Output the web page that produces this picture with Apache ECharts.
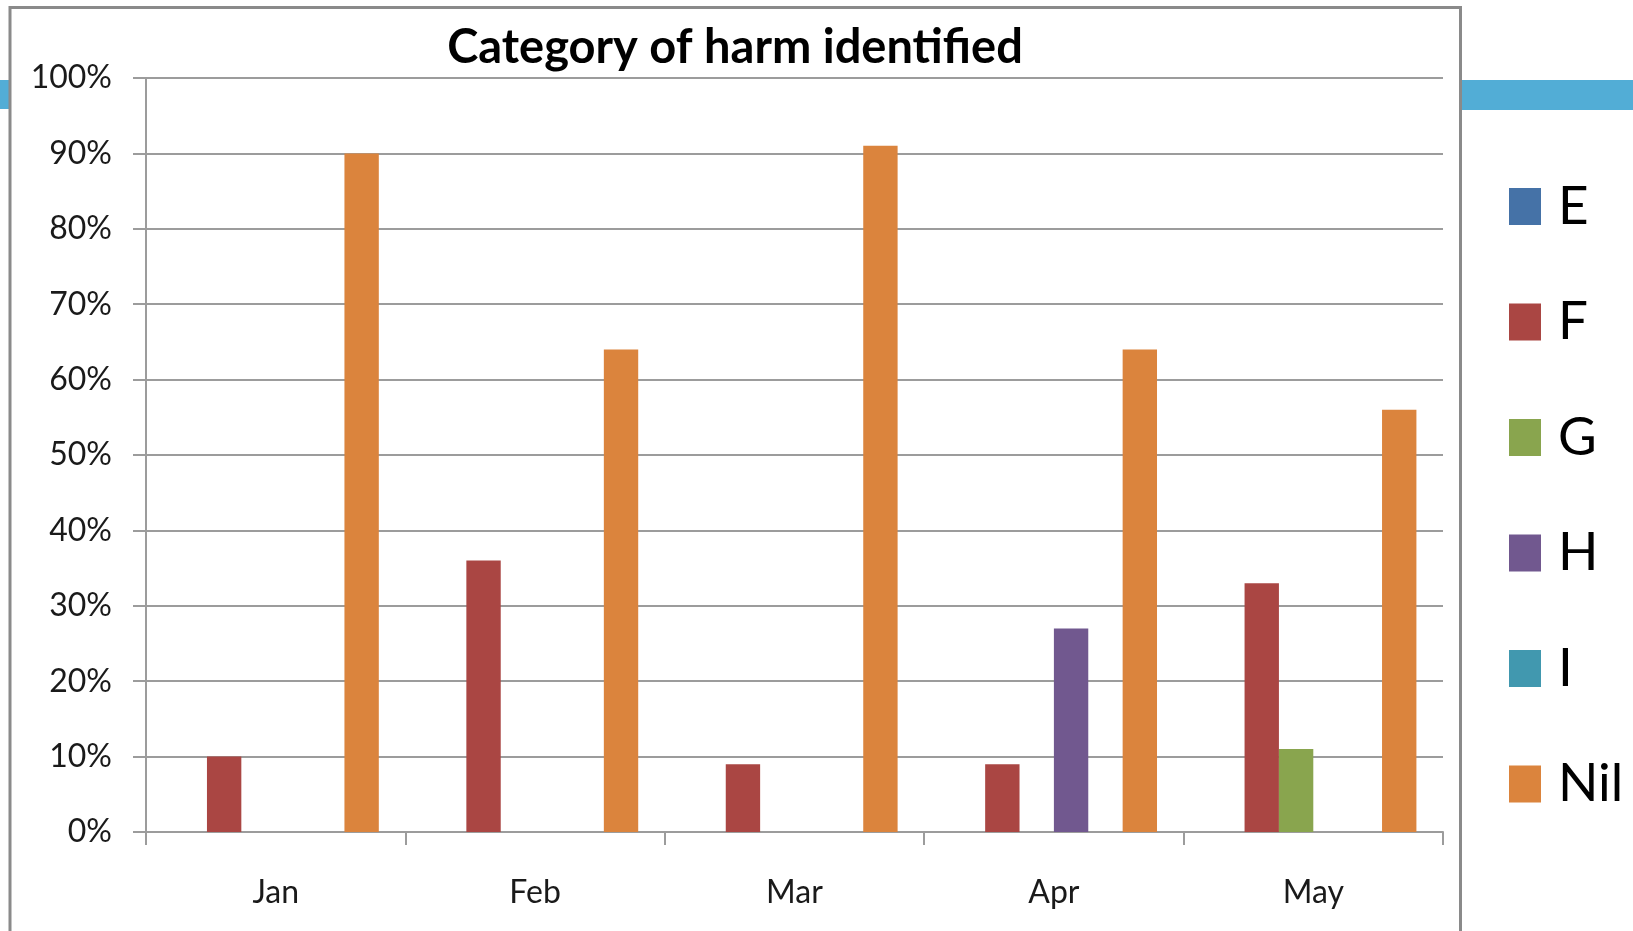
<!DOCTYPE html>
<html>
<head>
<meta charset="utf-8">
<script src="https://cdn.jsdelivr.net/npm/echarts@6/dist/echarts.min.js"></script>
<style>
html,body{margin:0;padding:0;background:#fff;}
#chart{width:1633px;height:931px;}
</style>
</head>
<body>
<div id="chart"></div>
<script>
const titleText = 'Category of harm identified';
const categories = ['Jan', 'Feb', 'Mar', 'Apr', 'May'];
const seriesNames = ['E', 'F', 'G', 'H', 'I', 'Nil'];
const valuesE = [0, 0, 0, 0, 0];
const valuesF = [10, 36, 9, 9, 33];
const valuesG = [0, 0, 0, 0, 11];
const valuesH = [0, 0, 0, 27, 0];
const valuesI = [0, 0, 0, 0, 0];
const valuesNil = [90, 64, 91, 64, 56];
const colors = ['#4572A7', '#AA4643', '#89A54E', '#71588F', '#4198AF', '#DB843D'];
const yMin = 0, yMax = 100, yStep = 10;

const allValues = [valuesE, valuesF, valuesG, valuesH, valuesI, valuesNil];

const chart = echarts.init(document.getElementById('chart'), null, {renderer: 'canvas'});
const font = 'Lato';
const gridColor = '#9c9c9c';

const option = {
  backgroundColor: '#ffffff',
  animation: false,
  color: colors,
  title: {
    text: titleText,
    left: 735,
    top: 24,
    padding: 0,
    textAlign: 'center',
    textStyle: {fontFamily: font, fontWeight: 'bold', fontSize: 47, color: '#000'}
  },
  graphic: [
    {type: 'rect', shape: {x: 0, y: 80, width: 9, height: 29}, style: {fill: '#52ADD6'}, z: 0},
    {type: 'rect', shape: {x: 1462, y: 80, width: 171, height: 30}, style: {fill: '#52ADD6'}, z: 0},
    {type: 'rect', shape: {x: 10, y: 7.5, width: 1450.5, height: 940}, style: {fill: 'none', stroke: '#8a8a8a', lineWidth: 3}, z: 0}
  ],
  legend: {
    data: seriesNames,
    orient: 'vertical',
    left: 1509,
    top: 180,
    padding: 0,
    itemWidth: 32,
    itemHeight: 37,
    itemGap: 62.5,
    icon: 'rect',
    textStyle: {fontFamily: font, fontSize: 53, lineHeight: 52, color: '#000', padding: [0, 0, 0, 12]}
  },
  grid: {left: 146, top: 78, width: 1297, height: 754, containLabel: false},
  xAxis: {
    type: 'category',
    data: categories,
    axisLine: {lineStyle: {color: gridColor, width: 2}},
    axisTick: {show: true, length: 13, lineStyle: {color: gridColor, width: 2}},
    axisLabel: {fontFamily: font, fontSize: 32, color: '#1a1a1a', margin: 45},
    splitLine: {show: false}
  },
  yAxis: {
    type: 'value',
    min: yMin,
    max: yMax,
    interval: yStep,
    axisLine: {show: true, lineStyle: {color: gridColor, width: 2}},
    axisTick: {show: true, length: 13, lineStyle: {color: gridColor, width: 2}},
    axisLabel: {fontFamily: font, fontSize: 32, color: '#1a1a1a', margin: 34, formatter: '{value}%'},
    splitLine: {show: true, lineStyle: {color: gridColor, width: 2}}
  },
  series: seriesNames.map((name, i) => ({
    name: name,
    type: 'bar',
    data: allValues[i],
    barGap: '0%',
    barCategoryGap: '20.5%',
    itemStyle: {color: colors[i]}
  }))
};
chart.setOption(option);
</script>
</body>
</html>
